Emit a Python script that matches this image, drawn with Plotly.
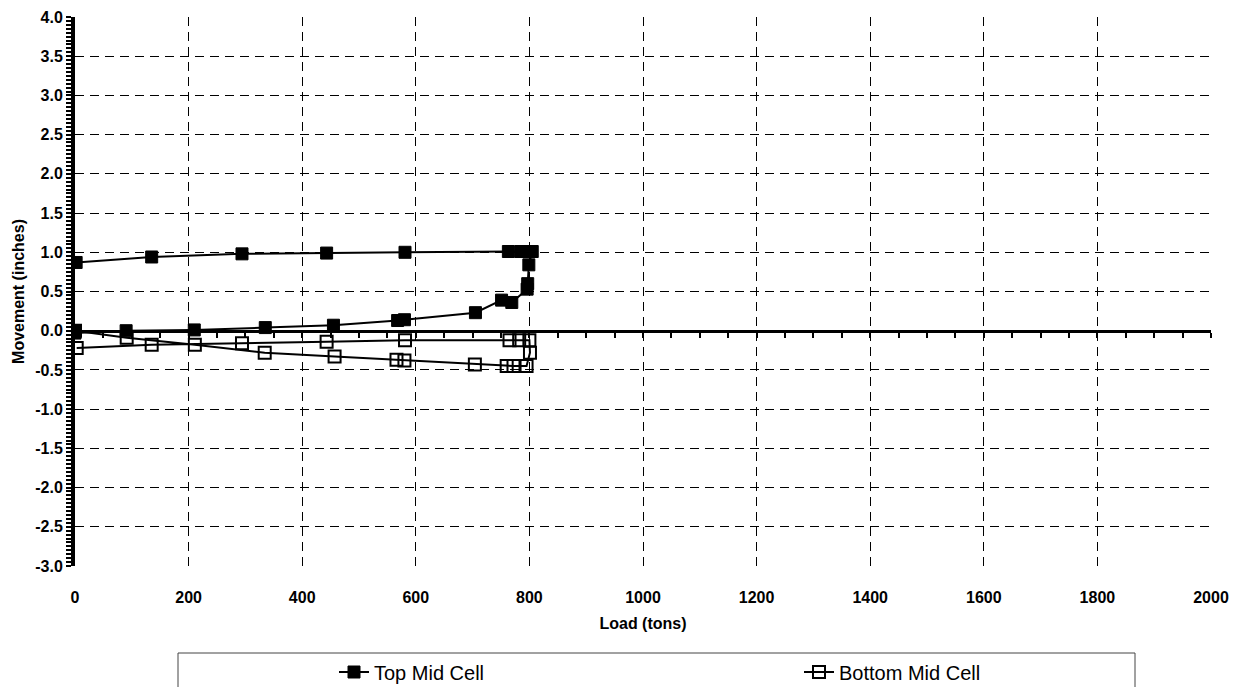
import plotly.graph_objects as go

# ---------------- data ----------------
top_load = [0, 0, 90, 210, 335, 455, 568, 580, 705, 751, 769, 796, 797, 799, 805, 785, 763, 581, 443, 294, 135, 2]
top_move = [0.0, -0.03, 0.0, 0.01, 0.04, 0.07, 0.13, 0.14, 0.23, 0.39, 0.36, 0.53, 0.60, 0.84, 1.01, 1.01, 1.01, 1.00, 0.99, 0.98, 0.94, 0.87]

bot_load = [0, 91, 211, 334, 457, 566, 580, 704, 760, 772, 795, 801, 800, 782, 765, 581, 443, 294, 135, 3]
bot_move = [0.0, -0.09, -0.18, -0.28, -0.33, -0.37, -0.38, -0.43, -0.45, -0.45, -0.45, -0.28, -0.12, -0.12, -0.12, -0.12, -0.14, -0.16, -0.18, -0.22]

series_names = ["Top Mid Cell", "Bottom Mid Cell"]

y_tick_vals = [-3.0, -2.5, -2.0, -1.5, -1.0, -0.5, 0.0, 0.5, 1.0, 1.5, 2.0, 2.5, 3.0, 3.5, 4.0]
y_tick_text = ["-3.0", "-2.5", "-2.0", "-1.5", "-1.0", "-0.5", "0.0", "0.5", "1.0", "1.5", "2.0", "2.5", "3.0", "3.5", "4.0"]
x_tick_vals = [0, 200, 400, 600, 800, 1000, 1200, 1400, 1600, 1800, 2000]

FONT = "Liberation Sans, Arial, sans-serif"
W, H = 1240, 687

fig = go.Figure()
fig.add_trace(go.Scatter(
    x=top_load, y=top_move, name=series_names[0], mode="lines+markers",
    line=dict(color="black", width=2),
    marker=dict(symbol="square", size=12, color="black", line=dict(color="black", width=1)),
    legend="legend", xaxis="x", yaxis="y",
))
fig.add_trace(go.Scatter(
    x=bot_load, y=bot_move, name=series_names[1], mode="lines+markers",
    line=dict(color="black", width=2),
    marker=dict(symbol="square-open", size=12, color="black", line=dict(color="black", width=2)),
    legend="legend2", xaxis="x", yaxis="y",
))
# invisible helper trace so the bottom label axis is drawn
fig.add_trace(go.Scatter(x=[None], y=[None], xaxis="x2", yaxis="y",
                         showlegend=False, hoverinfo="skip"))

grid_dash = "9px,6px"

fig.update_layout(
    width=W, height=H,
    margin=dict(l=75, r=29, t=17, b=121, autoexpand=False),
    paper_bgcolor="white", plot_bgcolor="white",
    font=dict(family=FONT, color="black"),
    showlegend=True,
    xaxis=dict(
        range=[0, 2000], anchor="free", position=3/7,
        showgrid=True, gridcolor="black", gridwidth=1, griddash=grid_dash,
        tickmode="array", tickvals=x_tick_vals,
        showline=True, linecolor="black", linewidth=3,
        ticks="outside", ticklen=5, tickwidth=2, tickcolor="black",
        minor=dict(dtick=50, tick0=0, ticks="outside", ticklen=5, tickwidth=2,
                   tickcolor="black", showgrid=False),
        showticklabels=False, zeroline=False, automargin=False,
    ),
    xaxis2=dict(
        range=[0, 2000], overlaying="x", anchor="y", side="bottom",
        tickmode="array", tickvals=x_tick_vals,
        showgrid=False, showline=False, zeroline=False, ticks="",
        ticklabelstandoff=20, automargin=False,
        tickfont=dict(family=FONT, size=16, color="black", weight="bold"),
        title=dict(text="Load (tons)", font=dict(family=FONT, size=16, color="black", weight="bold"),
                   standoff=12),
    ),
    yaxis=dict(
        range=[-3, 4], tickmode="array", tickvals=y_tick_vals, ticktext=y_tick_text,
        showgrid=True, gridcolor="black", gridwidth=1, griddash=grid_dash,
        showline=True, linecolor="black", linewidth=4,
        ticks="outside", ticklen=5, tickwidth=2, tickcolor="black",
        minor=dict(dtick=0.05, tick0=0, ticks="outside", ticklen=5, tickwidth=2,
                   tickcolor="black", showgrid=False),
        zeroline=False, automargin=False,
        tickfont=dict(family=FONT, size=16, color="black", weight="bold"),
        title=dict(text="Movement (inches)", font=dict(family=FONT, size=16, color="black", weight="bold"),
                   standoff=8),
    ),
    legend=dict(orientation="h", xref="container", yref="container",
                x=334 / W, xanchor="left", y=(H - 672) / H, yanchor="middle",
                font=dict(family=FONT, size=20, color="black"), bgcolor="rgba(0,0,0,0)", borderwidth=0),
    legend2=dict(orientation="h", xref="container", yref="container",
                 x=799 / W, xanchor="left", y=(H - 672) / H, yanchor="middle",
                 font=dict(family=FONT, size=20, color="black"), bgcolor="rgba(0,0,0,0)", borderwidth=0),
    shapes=[dict(type="rect", xref="paper", yref="paper",
                 x0=(178 - 75) / 1136, x1=(1135 - 75) / 1136,
                 y0=(566 - 653) / 549, y1=(566 - 705) / 549,
                 line=dict(color="#444444", width=1), fillcolor="rgba(0,0,0,0)", layer="below")],
)

fig.write_html("out.html")
